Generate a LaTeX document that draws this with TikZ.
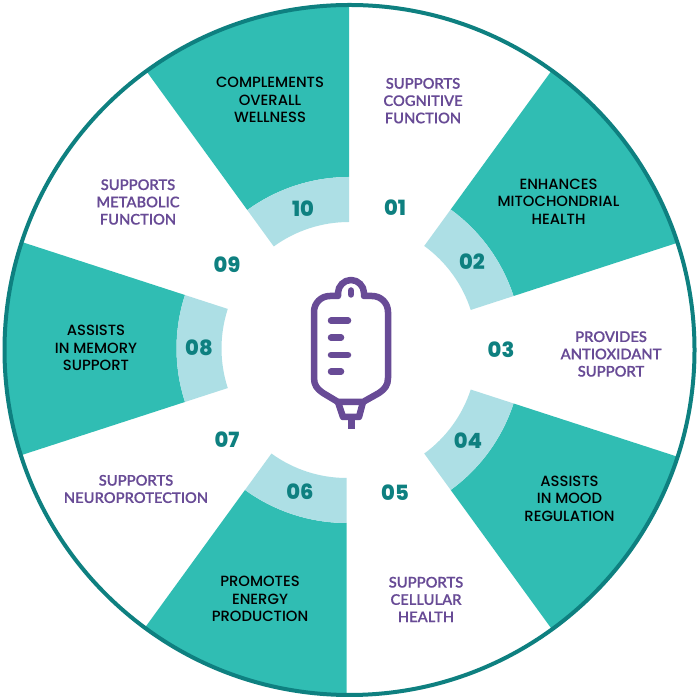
\documentclass[tikz,border=0pt]{standalone}
\usepackage{fontspec}
\setmainfont{Lato}
\newfontfamily\prp[FakeBold=0.25]{Lato Semibold}
\newfontfamily\blk{Poppins Medium}
\newfontfamily\numf{Poppins ExtraBold}
\definecolor{tealA}{HTML}{30BDB3}
\definecolor{lightA}{HTML}{ADDFE5}
\definecolor{purpA}{HTML}{684B96}
\definecolor{darkA}{HTML}{0E8080}
\tikzset{
 lbl/.style={align=center,font=\prp\fontsize{14.7}{17.3}\selectfont,text=purpA,inner sep=0pt},
 lblk/.style={align=center,font=\blk\fontsize{14.8}{17.3}\selectfont,text=black,inner sep=0pt},
 num/.style={font=\numf\fontsize{21}{21}\selectfont,text=darkA,inner sep=0pt},
 bar/.style={draw=purpA,line width=6.5pt,line cap=round},
 bag/.style={draw=purpA,line width=6.5pt,line join=round}
}
\newcommand{\sect}[3]{%
 \begin{scope}[shift={(#2,#3)}]
 \fill[tealA] (#1:173) -- (#1:352) arc[start angle=#1,delta angle=36,radius=352] -- ({#1+36}:173) arc[start angle={#1+36},delta angle=-36,radius=173] -- cycle;
 \fill[lightA] (#1:128) -- (#1:173) arc[start angle=#1,delta angle=36,radius=173] -- ({#1+36}:128) arc[start angle={#1+36},delta angle=-36,radius=128] -- cycle;
 \end{scope}
}
\begin{document}
\begin{tikzpicture}[x=1pt,y=1pt]
\useasboundingbox (0,0) rectangle (700,700);
\fill[white] (0,0) rectangle (700,700);
\begin{scope}[shift={(349.5,350)}]
\begin{scope}
\clip (0,0) circle[radius=345];
\sect{18}{-0.5}{0.5}
\sect{90}{-0.5}{0}
\sect{162}{0}{1.5}
\sect{234}{-2.8}{0}
\sect{306}{-0.5}{0}
\end{scope}
\draw[darkA,line width=4pt] (0,0) circle[radius=345];
\end{scope}
\begin{scope}[x=1pt,y=-1pt,shift={(0,-700)}]
\node[lbl] (t01) at (423,100.7) {SUPPORTS\\COGNITIVE\\FUNCTION};
\node[lblk] (t02) at (558.5,201.7) {ENHANCES\\MITOCHONDRIAL\\HEALTH};
\node[lbl] (t03) at (611,354) {PROVIDES\\ANTIOXIDANT\\SUPPORT};
\node[lblk] (t04) at (569.5,498.8) {ASSISTS\\IN MOOD\\REGULATION};
\node[lbl] (t05) at (426,599.5) {SUPPORTS\\CELLULAR\\HEALTH};
\node[lblk] (t06) at (260,599) {PROMOTES\\ENERGY\\PRODUCTION};
\node[lbl] (t07) at (136,489) {SUPPORTS\\NEUROPROTECTION};
\node[lblk] (t08) at (96,348) {ASSISTS\\IN MEMORY\\SUPPORT};
\node[lbl] (t09) at (138,202) {SUPPORTS\\METABOLIC\\FUNCTION};
\node[lblk] (t10) at (270,100) {COMPLEMENTS\\OVERALL\\WELLNESS};
\node[num] (n01) at (395,208) {01};
\node[num] (n02) at (472,262) {02};
\node[num] (n03) at (501,350) {03};
\node[num] (n04) at (468,441) {04};
\node[num] (n05) at (395,493) {05};
\node[num] (n06) at (300,492) {06};
\node[num] (n07) at (227,440) {07};
\node[num] (n08) at (199,348) {08};
\node[num] (n09) at (227,265) {09};
\node[num] (n10) at (303,209) {10};
% bag
\draw[bag] (338,296) -- (338,293) .. controls (338,286) and (344,280) .. (351,280) .. controls (358,280) and (364,286) .. (364,293) -- (364,296)
 -- (372,296) .. controls (381,296) and (388,303) .. (388,312) -- (388,378) .. controls (388,385) and (385,389) .. (379,393)
 -- (363,402) -- (338,402) -- (323,393) .. controls (317,389) and (314,385) .. (314,378) -- (314,312) .. controls (314,303) and (321,296) .. (330,296) -- cycle;
\draw[bag] (338,402) -- (343,417) -- (359,417) -- (363,402);
\draw[draw=purpA,line width=7pt] (351,417) -- (351,429);
\draw[bar] (351,290.5) -- (351,294.5);
\draw[bar] (331,320.7) -- (348,320.7);
\draw[bar] (331,337.7) -- (341,337.7);
\draw[bar] (331,355) -- (348,355);
\draw[bar] (331,371.7) -- (341,371.7);
\end{scope}
\end{tikzpicture}
\end{document}
